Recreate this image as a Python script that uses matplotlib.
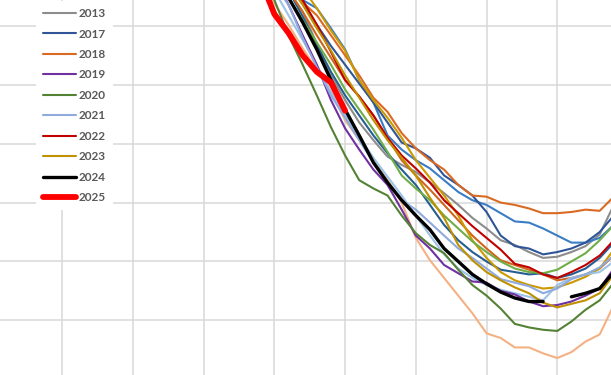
import numpy as np
import matplotlib.pyplot as plt

nan = np.nan

# day of year, every second day
days = list(range(246, 300, 2))

# sea ice extent (million km2)
ext_2012 = [nan, 6.88, 6.69, 6.51, 6.31, 6.13, 5.94, 5.70, 5.53, 5.36, 5.19, 5.00, 4.70, 4.51,
            4.36, 4.21, 4.06, 3.89, 3.85, 3.77, 3.77, 3.72, 3.68, 3.73, 3.82, 3.88, 4.13]
ext_2013 = [nan, nan, 6.98, 6.80, 6.62, 6.35, 6.08, 5.87, 5.68, 5.53, 5.39, 5.32, 5.26, 5.17,
            5.08, 4.98, 4.87, 4.78, 4.68, 4.64, 4.58, 4.53, 4.54, 4.58, 4.63, 4.73, 4.98]
ext_2014 = [nan, nan, 7.00, 6.85, 6.72, 6.65, 6.48, 6.30, 6.04, 5.85, 5.57, 5.45, 5.36, 5.29,
            5.19, 5.09, 5.02, 4.98, 4.91, 4.84, 4.83, 4.78, 4.72, 4.66, 4.66, 4.70, 4.81]
ext_2015 = [nan, nan, 6.98, 6.80, 6.58, 6.34, 6.11, 5.91, 5.74, 5.57, 5.42, 5.28, 5.15, 4.98,
            4.81, 4.68, 4.58, 4.50, 4.43, 4.41, 4.39, 4.40, 4.36, 4.39, 4.44, 4.53, 4.66]
ext_2016 = [nan, nan, 6.98, 6.80, 6.62, 6.42, 6.23, 6.04, 5.90, 5.74, 5.55, 5.36, 5.23, 5.11,
            4.98, 4.85, 4.72, 4.61, 4.51, 4.47, 4.43, 4.39, 4.34, 4.36, 4.39, 4.44, 4.55]
ext_2017 = [nan, nan, 7.00, 6.85, 6.69, 6.51, 6.33, 6.17, 6.01, 5.85, 5.68, 5.51, 5.46, 5.38,
            5.23, 5.15, 5.06, 4.92, 4.72, 4.63, 4.61, 4.56, 4.58, 4.61, 4.66, 4.75, 4.89]
ext_2018 = [nan, nan, 6.95, 6.82, 6.70, 6.59, 6.42, 6.25, 6.08, 5.89, 5.77, 5.59, 5.46, 5.36,
            5.28, 5.15, 5.06, 5.05, 5.00, 4.98, 4.95, 4.91, 4.91, 4.92, 4.94, 4.93, 5.05]
ext_2019 = [nan, nan, 6.90, 6.68, 6.42, 6.17, 5.87, 5.63, 5.45, 5.28, 5.15, 4.94, 4.72, 4.61,
            4.47, 4.40, 4.33, 4.32, 4.25, 4.22, 4.16, 4.12, 4.13, 4.16, 4.21, 4.27, 4.44]
ext_2020 = [nan, 6.95, 6.72, 6.42, 6.17, 5.91, 5.64, 5.40, 5.19, 5.12, 5.06, 4.89, 4.74, 4.64,
            4.57, 4.43, 4.30, 4.21, 4.10, 3.97, 3.94, 3.92, 3.91, 3.99, 4.09, 4.17, 4.32]
ext_2021 = [nan, nan, 6.85, 6.68, 6.40, 6.15, 5.91, 5.72, 5.53, 5.34, 5.17, 5.02, 4.94, 4.83,
            4.72, 4.61, 4.53, 4.44, 4.35, 4.32, 4.29, 4.23, 4.27, 4.35, 4.39, 4.45, 4.55]
ext_2022 = [nan, nan, 7.05, 6.89, 6.72, 6.51, 6.28, 6.04, 5.90, 5.74, 5.55, 5.40, 5.29, 5.17,
            5.02, 4.91, 4.80, 4.70, 4.60, 4.48, 4.45, 4.39, 4.36, 4.41, 4.47, 4.55, 4.68]
ext_2023 = [nan, nan, 7.00, 6.85, 6.68, 6.48, 6.29, 6.08, 5.89, 5.70, 5.53, 5.38, 5.23, 5.04,
            4.87, 4.64, 4.51, 4.41, 4.34, 4.28, 4.23, 4.15, 4.11, 4.14, 4.17, 4.23, 4.39]
ext_2024 = [nan, nan, 6.97, 6.74, 6.53, 6.30, 6.04, 5.79, 5.57, 5.34, 5.17, 5.02, 4.89, 4.77,
            4.61, 4.50, 4.39, 4.31, 4.24, 4.19, 4.16, 4.16, nan, 4.20, 4.23, 4.27, 4.41]
ext_2025 = [nan, 6.90, 6.60, 6.44, 6.25, 6.11, 6.02, 5.78, nan, nan, nan, nan, nan, nan,
            nan, nan, nan, nan, nan, nan, nan, nan, nan, nan, nan, nan, nan]
# unlabelled years
ext_a = [nan, nan, nan, 7.00, 6.82, 6.65, 6.46, 6.29, 6.04, 5.87, 5.72, 5.55, 5.36, 5.21,
         5.06, 4.89, 4.68, 4.53, 4.41, 4.34, 4.30, 4.27, 4.28, 4.32, 4.37, 4.44, 4.60]
ext_b = [nan, nan, 6.93, 6.74, 6.55, 6.36, 6.17, 5.96, 5.79, 5.62, 5.43, 5.23, 5.12, 5.02,
         4.89, 4.78, 4.67, 4.58, 4.50, 4.44, 4.41, 4.40, 4.43, 4.50, 4.57, 4.68, 4.81]
ext_c = [nan, nan, 6.80, 6.59, 6.38, 6.17, 5.94, 5.74, 5.56, 5.38, 5.22, 5.06, 4.89, 4.72,
         4.56, 4.44, 4.36, 4.30, 4.26, 4.23, 4.20, 4.17, 4.30, 4.36, 4.39, 4.41, 4.50]

plt.rcParams['font.family'] = ['Lato', 'DejaVu Sans']

fig = plt.figure(figsize=(6.11, 3.75), dpi=100)
ax = fig.add_axes([0, 0, 1, 1])

lines = {}
def draw(vals, color, lw, name, z=2):
    l, = ax.plot(days, vals, color=color, lw=lw, label=name, zorder=z,
                 solid_joinstyle='round', solid_capstyle='round')
    lines[name] = l

draw(ext_2012, '#F4B183', 1.5, '2012')
draw(ext_2013, '#8C8C8C', 1.5, '2013')
draw(ext_2014, '#3A7DC4', 1.5, '2014')
draw(ext_2015, '#255E91', 1.5, '2015')
draw(ext_2016, '#D0651E', 1.5, '2016')
draw(ext_2017, '#2F5597', 1.5, '2017')
draw(ext_2018, '#DA6A22', 1.5, '2018')
draw(ext_a, '#CC9900', 1.5, 'a')
draw(ext_b, '#70AD47', 1.5, 'b')
draw(ext_c, '#9DC3E6', 1.5, 'c')
draw(ext_2019, '#7030A0', 1.5, '2019')
draw(ext_2020, '#548235', 1.5, '2020')
draw(ext_2021, '#8FAADC', 1.5, '2021')
draw(ext_2022, '#C00000', 1.5, '2022')
draw(ext_2023, '#BF9000', 1.5, '2023')
draw(ext_2024, '#000000', 2.4, '2024', z=4)
draw(ext_2025, '#FF0000', 4.2, '2025', z=5)

ax.set_xlim(211.2, 297.6)
ax.set_ylim(3.536, 6.72)
ax.set_xticks(range(220, 300, 10))
ax.set_yticks(np.arange(4.0, 6.6, 0.5))
ax.tick_params(length=0, labelbottom=False, labelleft=False)
for s in ax.spines.values():
    s.set_visible(False)
ax.grid(True, color='#D9D9D9', lw=1.1)
ax.set_axisbelow(True)

shown = ['2013', '2017', '2018', '2019', '2020', '2021', '2022', '2023', '2024', '2025']
leg = ax.legend([lines[k] for k in shown], shown, loc='upper left',
                bbox_to_anchor=(0.049, 1.013), frameon=True, fancybox=False,
                edgecolor='none', facecolor='white', framealpha=1,
                prop={'weight': 'bold', 'size': 8.5}, handlelength=2.8,
                handletextpad=0.2, labelspacing=0.80, borderpad=0.6)
for t in leg.get_texts():
    t.set_color('#595959')
leg.set_zorder(10)

fig.savefig('out.png', dpi=100)
